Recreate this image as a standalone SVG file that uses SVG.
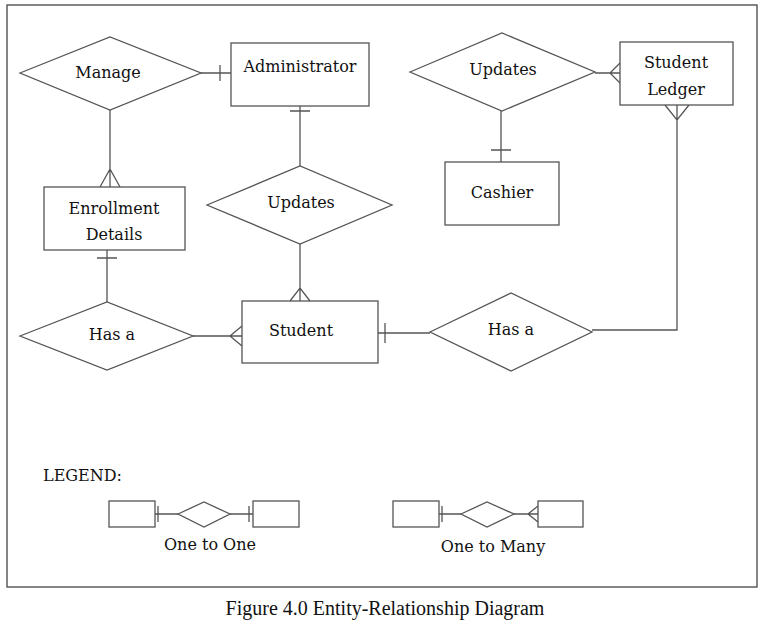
<svg xmlns="http://www.w3.org/2000/svg" width="768" height="625" viewBox="0 0 768 625">
<style>
.s{fill:#fff;stroke:#555;stroke-width:1.3}
.l{fill:none;stroke:#555;stroke-width:1.3}
text{font-family:"DejaVu Serif","Liberation Serif",serif;font-size:16px;fill:#111;text-anchor:middle}
.cap{font-family:"Liberation Serif","Times New Roman",serif;font-size:20px}
</style>
<rect width="768" height="625" fill="#fff"/>
<rect x="7" y="5" width="750" height="582" fill="none" stroke="#444" stroke-width="1.3"/>
<g id="connectors" class="l">
<path d="M201 73H231M220 65V81"/>
<path d="M110 110V187M100 187L110 169L120 187"/>
<path d="M300 106V166M290 111H310"/>
<path d="M300 244V301M290 301L300 288L310 301"/>
<path d="M107 250V302M97 258H117"/>
<path d="M193 336H242M242 326L230 336L242 346"/>
<path d="M378 333H430M385 323V343"/>
<path d="M592 330H677V105M665 105L677 120L689 105"/>
<path d="M595 73H620M620 63L610 73L620 83"/>
<path d="M501 111V162M491 150H511"/>
<path d="M155 514H178M158 506V522M230 514H253M249 506V522"/>
<path d="M439 514H461M442 506V522M514 514H538M538 506L528 514L538 522"/>
</g>
<g id="manage"><path class="s" d="M20 73L110 37L201 73L110 110Z"/><text x="108" y="78">Manage</text></g>
<g id="administrator"><rect class="s" x="231" y="43" width="138" height="63"/><text x="300" y="72">Administrator</text></g>
<g id="enrollment"><rect class="s" x="44" y="187" width="141" height="63"/><text x="114" y="214">Enrollment</text><text x="114" y="240">Details</text></g>
<g id="updates1"><path class="s" d="M207 205L300 166L392 205L300 244Z"/><text x="301" y="208">Updates</text></g>
<g id="hasa1"><path class="s" d="M20 336L107 302L193 336L107 370Z"/><text x="112" y="340">Has a</text></g>
<g id="student"><rect class="s" x="242" y="301" width="136" height="62"/><text x="301" y="336">Student</text></g>
<g id="hasa2"><path class="s" d="M430 332L511 293L592 332L511 371Z"/><text x="511" y="335">Has a</text></g>
<g id="updates2"><path class="s" d="M410 72L502 33L595 72L502 111Z"/><text x="503" y="75">Updates</text></g>
<g id="ledger"><rect class="s" x="620" y="42" width="113" height="63"/><text x="676" y="68">Student</text><text x="676" y="95">Ledger</text></g>
<g id="cashier"><rect class="s" x="445" y="162" width="114" height="63"/><text x="502" y="198">Cashier</text></g>
<g id="legend">
<text x="43" y="481" style="text-anchor:start">LEGEND:</text>
<rect class="s" x="109" y="501" width="46" height="26"/>
<path class="s" d="M178 514L204 502L230 514L204 527Z"/>
<rect class="s" x="253" y="501" width="46" height="26"/>
<text x="210" y="550">One to One</text>
<rect class="s" x="393" y="501" width="46" height="26"/>
<path class="s" d="M461 514L487 502L514 514L487 527Z"/>
<rect class="s" x="538" y="501" width="45" height="26"/>
<text x="493" y="552">One to Many</text>
</g>
<text class="cap" x="385" y="615">Figure 4.0 Entity-Relationship Diagram</text>
</svg>
